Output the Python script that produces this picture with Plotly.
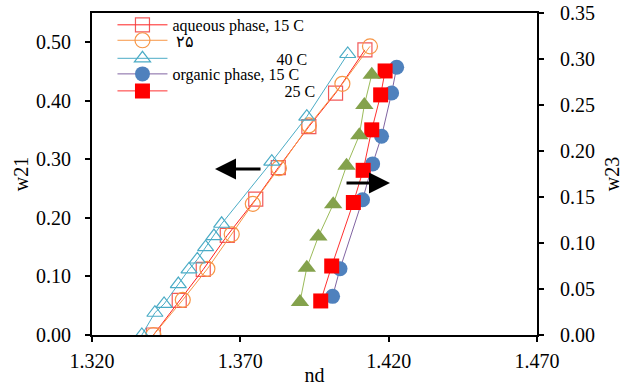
import plotly.graph_objects as go

NBSP = "\u00a0"

# Aqueous phase (left axis, w21)
aq15_nd = [1.3407, 1.3494, 1.3575, 1.3656, 1.3752, 1.3828, 1.3931, 1.4021, 1.4120]
aq15_w = [0.000, 0.059, 0.112, 0.170, 0.232, 0.286, 0.356, 0.413, 0.487]

aq25_nd = [1.3407, 1.3506, 1.3589, 1.3671, 1.3742, 1.3830, 1.3931, 1.4044, 1.4137]
aq25_w = [0.000, 0.060, 0.113, 0.172, 0.224, 0.285, 0.358, 0.429, 0.493]

aq40_nd = [1.3368, 1.3412, 1.3443, 1.3491, 1.3527, 1.3555, 1.3583, 1.3611, 1.3637, 1.3806, 1.3924, 1.4062]
aq40_w = [0.000, 0.038, 0.053, 0.087, 0.112, 0.129, 0.150, 0.169, 0.190, 0.296, 0.373, 0.480]

# Organic phase (right axis, w23)
or15_nd = [1.4011, 1.4036, 1.4112, 1.4146, 1.4176, 1.4210, 1.4227]
or15_w = [0.042, 0.072, 0.147, 0.186, 0.216, 0.263, 0.291]

or25_nd = [1.3971, 1.4008, 1.4081, 1.4114, 1.4143, 1.4173, 1.4188]
or25_w = [0.037, 0.075, 0.144, 0.179, 0.223, 0.261, 0.287]

or40_nd = [1.3901, 1.3924, 1.3963, 1.4013, 1.4058, 1.4101, 1.4118, 1.4143]
or40_w = [0.036, 0.073, 0.107, 0.142, 0.184, 0.217, 0.250, 0.283]

names = [
    "aqueous phase, 15 C",
    NBSP + "۲۵",
    NBSP * 26 + "40 C",
    "organic phase, 15 C",
    NBSP * 28 + "25 C",
]

FONT = "Liberation Serif, Times New Roman, serif"

fig = go.Figure()
fig.add_trace(go.Scatter(x=aq15_nd, y=aq15_w, name=names[0], mode="lines+markers", legend="legend",
                         line=dict(color="#FF2020", width=1),
                         marker=dict(symbol="square-open", size=14, color="rgba(240,60,60,0.85)", line=dict(width=1.2))))
fig.add_trace(go.Scatter(x=aq25_nd, y=aq25_w, name=names[1], mode="lines+markers", legend="legend2",
                         line=dict(color="#F79646", width=1),
                         marker=dict(symbol="circle-open", size=15, color="#F79646", line=dict(width=1.2))))
fig.add_trace(go.Scatter(x=aq40_nd, y=aq40_w, name=names[2], mode="lines+markers", legend="legend3",
                         line=dict(color="#4BACC6", width=1),
                         marker=dict(symbol="triangle-up-open", size=14, color="#4BACC6", line=dict(width=1.2))))
fig.add_trace(go.Scatter(x=or15_nd, y=or15_w, name=names[3], mode="lines+markers", yaxis="y2", legend="legend4",
                         line=dict(color="#8064A2", width=1),
                         marker=dict(symbol="circle", size=15, color="#4F81BD")))
fig.add_trace(go.Scatter(x=or25_nd, y=or25_w, name=names[4], mode="lines+markers", yaxis="y2", legend="legend5",
                         line=dict(color="#FF3030", width=1),
                         marker=dict(symbol="square", size=15, color="#FF0000")))
fig.add_trace(go.Scatter(x=or40_nd, y=or40_w, name="40 C organic", mode="lines+markers", yaxis="y2",
                         showlegend=False,
                         line=dict(color="#9BBB59", width=1),
                         marker=dict(symbol="triangle-up", size=16, color="#84A24C")))

axis_common = dict(showline=True, linecolor="black", linewidth=2, ticks="outside",
                   ticklen=5, tickwidth=2, tickcolor="black", showgrid=False, zeroline=False,
                   automargin=False,
                   tickfont=dict(family=FONT, size=20, color="black"),
                   title_font=dict(family=FONT, size=20, color="black"))

legend_rows = [0.963, 0.915, 0.859, 0.8106, 0.7578]
legend_common = dict(x=0.046, xanchor="left", yanchor="middle", bgcolor="rgba(0,0,0,0)",
                     font=dict(family=FONT, size=16, color="black"), itemwidth=50)

fig.update_layout(
    width=623, height=386,
    margin=dict(l=92, r=86, t=13, b=51, autoexpand=False),
    plot_bgcolor="white", paper_bgcolor="white",
    xaxis=dict(range=[1.32, 1.47], dtick=0.05, tick0=1.32, tickformat=".3f", mirror=True,
               ticklabelstandoff=2,
               title=dict(text="nd", standoff=6), **axis_common),
    yaxis=dict(range=[0, 0.55], dtick=0.1, tick0=0, tickformat=".2f", ticklabelstandoff=10,
               title=dict(text="w21", standoff=2), **axis_common),
    yaxis2=dict(range=[0, 0.35], dtick=0.05, tick0=0, tickformat=".2f", overlaying="y", side="right",
                ticklabelstandoff=12,
                title=dict(text="w23", standoff=12), **axis_common),
    legend=dict(y=legend_rows[0], **legend_common),
    legend2=dict(y=legend_rows[1], **legend_common),
    legend3=dict(y=legend_rows[2], **legend_common),
    legend4=dict(y=legend_rows[3], **legend_common),
    legend5=dict(y=legend_rows[4], **legend_common),
    showlegend=True,
)

fig.add_annotation(xref="paper", yref="paper", x=0.2764, y=0.5155, ax=47, ay=0,
                   text="", showarrow=True, arrowhead=2, arrowsize=1.4, arrowwidth=3,
                   arrowcolor="black", standoff=0)
fig.add_annotation(xref="paper", yref="paper", x=0.6697, y=0.472, ax=-45, ay=0,
                   text="", showarrow=True, arrowhead=2, arrowsize=1.4, arrowwidth=3,
                   arrowcolor="black", standoff=0)

fig.write_html("out.html")
